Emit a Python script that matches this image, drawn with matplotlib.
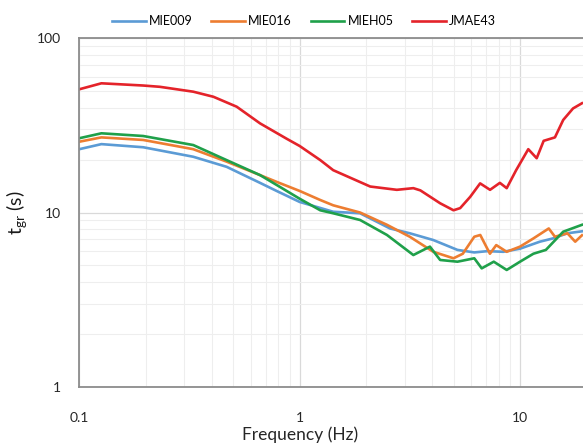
import matplotlib.pyplot as plt
from matplotlib.ticker import LogLocator, FixedLocator, FixedFormatter, NullFormatter

plt.rcParams['font.family'] = ['Lato', 'DejaVu Sans']

# values (frequency in Hz, t_gr in s)
mie009_f = [0.1, 0.126, 0.195, 0.329, 0.466, 0.661, 0.786, 1.0, 1.42, 1.88, 2.57,
            3.16, 4.04, 5.2, 6.2, 7.1, 8.4, 10.0, 12.3, 14.1, 16.4, 19.1]
mie009_t = [23.1, 24.7, 23.7, 20.9, 18.3, 14.8, 13.3, 11.5, 10.1, 9.9, 8.1,
            7.6, 6.95, 6.1, 5.9, 6.0, 5.95, 6.2, 6.8, 7.1, 7.6, 7.8]

mie016_f = [0.1, 0.126, 0.195, 0.329, 0.466, 0.661, 0.786, 1.0, 1.24, 1.42, 1.88,
            2.49, 3.16, 4.04, 4.99, 5.5, 6.2, 6.6, 7.3, 7.8, 8.7, 10.0, 11.5,
            13.5, 14.4, 16.4, 17.8, 19.1]
mie016_t = [25.5, 27.0, 26.1, 23.1, 19.6, 16.4, 15.0, 13.3, 11.8, 11.0, 10.0,
            8.5, 7.26, 5.95, 5.46, 5.8, 7.26, 7.43, 5.8, 6.5, 5.95, 6.37, 7.1,
            8.1, 7.26, 7.6, 6.8, 7.4]

mieh05_f = [0.1, 0.126, 0.195, 0.329, 0.466, 0.661, 0.786, 1.0, 1.24, 1.42, 1.88,
            2.49, 3.28, 3.9, 4.34, 5.2, 6.2, 6.7, 7.6, 8.7, 10.0, 11.5, 13.1,
            15.7, 19.1]
mieh05_t = [26.7, 28.5, 27.5, 24.4, 20.0, 16.4, 14.4, 12.0, 10.3, 9.9, 9.06,
            7.43, 5.7, 6.37, 5.34, 5.22, 5.46, 4.78, 5.22, 4.68, 5.22, 5.8, 6.1,
            7.76, 8.5]

jmae43_f = [0.1, 0.126, 0.195, 0.232, 0.329, 0.406, 0.518, 0.661, 0.874, 1.0, 1.24,
            1.42, 2.09, 2.76, 3.28, 3.53, 4.34, 4.99, 5.35, 5.94, 6.59, 7.31, 8.1,
            8.7, 9.6, 10.9, 11.9, 12.8, 14.4, 15.7, 17.4, 19.1]
jmae43_t = [51.0, 55.2, 53.6, 52.7, 49.4, 46.2, 40.5, 32.5, 26.5, 24.1, 20.0,
            17.5, 14.1, 13.5, 13.8, 13.4, 11.3, 10.3, 10.6, 12.3, 14.7, 13.5, 14.8,
            13.8, 17.5, 23.1, 20.5, 25.8, 27.0, 34.0, 39.6, 42.4]

names = ['MIE009', 'MIE016', 'MIEH05', 'JMAE43']
colors = ['#5B9BD5', '#ED7D31', '#1FA04A', '#E4232A']

x_ticks = [0.1, 1, 10]
x_labels = ['0.1', '1', '10']
y_ticks = [1, 10, 100]
y_labels = ['1', '10', '100']

fig = plt.figure(figsize=(5.83, 4.46), dpi=100)
# the reference is cut off on the right, so the axes run past the figure edge
ax = fig.add_axes([0.136, 0.133, 1.134, 0.781])

series = [(mie009_f, mie009_t), (mie016_f, mie016_t),
          (mieh05_f, mieh05_t), (jmae43_f, jmae43_t)]
for (f, t), name, c in zip(series, names, colors):
    ax.plot(f, t, color=c, lw=1.9, label=name, solid_joinstyle='round')

ax.set_xscale('log')
ax.set_yscale('log')
ax.set_xlim(0.1, 100)
ax.set_ylim(1, 100)

ax.xaxis.set_major_locator(FixedLocator(x_ticks))
ax.xaxis.set_major_formatter(FixedFormatter(x_labels))
ax.yaxis.set_major_locator(FixedLocator(y_ticks))
ax.yaxis.set_major_formatter(FixedFormatter(y_labels))
ax.xaxis.set_minor_locator(LogLocator(base=10, subs=range(2, 10)))
ax.yaxis.set_minor_locator(LogLocator(base=10, subs=range(2, 10)))
ax.xaxis.set_minor_formatter(NullFormatter())
ax.yaxis.set_minor_formatter(NullFormatter())

ax.grid(True, which='major', color='#D9D9D9', lw=0.9)
ax.grid(True, which='minor', color='#EEEEEE', lw=0.8)
ax.set_axisbelow(True)

ax.tick_params(which='both', length=0)
ax.tick_params(axis='x', pad=18, labelsize=10, labelcolor='#262626')
ax.tick_params(axis='y', pad=13, labelsize=10, labelcolor='#262626')

for s in ['left', 'bottom', 'top']:
    ax.spines[s].set_color('#8C8C8C')
    ax.spines[s].set_linewidth(1.3)
ax.spines['right'].set_visible(False)

ax.set_xlabel('Frequency (Hz)', fontsize=12.5, color='#262626', labelpad=6)
ax.set_ylabel(r'$\mathregular{t_{gr}}$ (s)', fontsize=14, color='#1A1A1A', labelpad=6)
ax.xaxis.set_label_coords((300 - 79.3) / (583 * 1.134), -0.115)

fig.legend(loc='center', bbox_to_anchor=(304 / 583, 1 - 21 / 446), ncol=4,
           frameon=False, fontsize=9, handlelength=2.7, handletextpad=0.25,
           columnspacing=1.5)

fig.savefig('out.png', dpi=100)
